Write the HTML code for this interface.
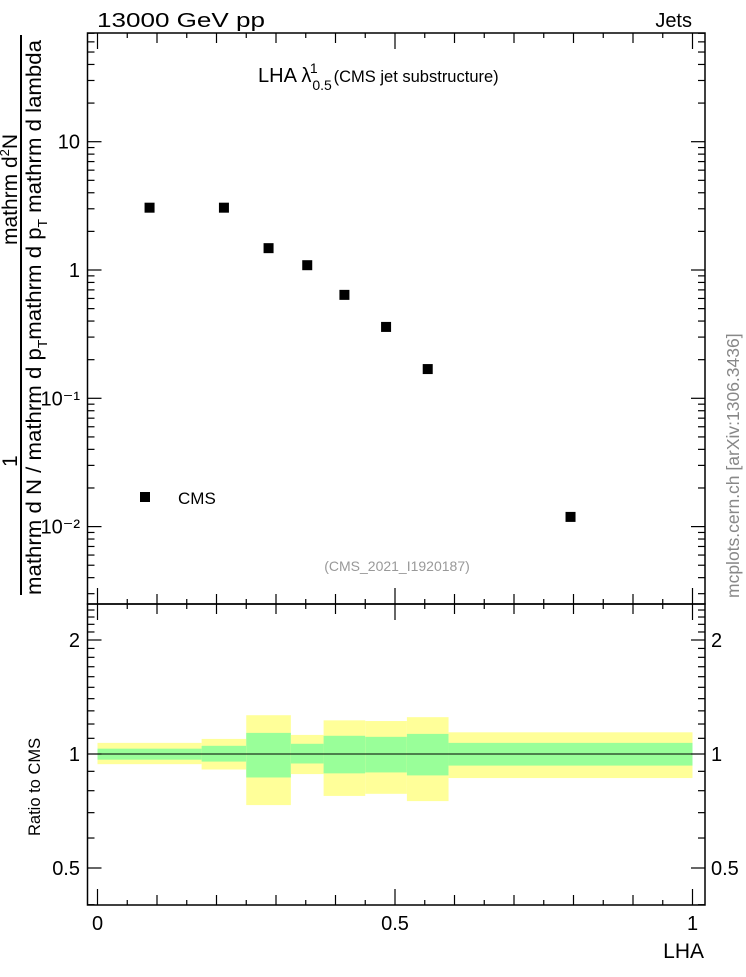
<!DOCTYPE html>
<html><head><meta charset="utf-8"><style>
body{margin:0;background:#fff}
svg text{font-family:"Liberation Sans",sans-serif}
</style></head><body>
<svg id="c" width="746" height="972" xmlns="http://www.w3.org/2000/svg">
<g id="bands"></g>
<g id="marks"></g>
<g id="axes"></g>
<text x="97" y="27" font-size="20" textLength="168" lengthAdjust="spacingAndGlyphs">13000 GeV pp</text>
<text x="692" y="27" font-size="20" text-anchor="end">Jets</text>
<text x="258" y="82" font-size="20">LHA λ<tspan font-size="14" dy="8" dx="1">0.5</tspan><tspan font-size="14" dy="-17" dx="-22">1</tspan><tspan font-size="16.5" dy="9" dx="16">(CMS jet substructure)</tspan></text>
<rect x="140" y="492" width="10" height="10" fill="#000"/>
<text x="178" y="504" font-size="17">CMS</text>
<text x="397" y="571" font-size="14" fill="#999" text-anchor="middle">(CMS_2021_I1920187)</text>
<text transform="translate(739,598) rotate(-90)" font-size="17.5" fill="#888">mcplots.cern.ch [arXiv:1306.3436]</text>
<line x1="21" y1="35" x2="21" y2="595" stroke="#000" stroke-width="2"/>
<text transform="translate(17,467) rotate(-90)" font-size="21">1</text>
<text transform="translate(17,245) rotate(-90)" font-size="21">mathrm d<tspan font-size="13" dy="-8">2</tspan><tspan dy="8">N</tspan></text>
<text transform="translate(41,595) rotate(-90)" font-size="21" textLength="555" lengthAdjust="spacingAndGlyphs">mathrm d N / mathrm d p<tspan font-size="13" dy="6">T</tspan><tspan dy="-6">mathrm d p</tspan><tspan font-size="13" dy="6">T</tspan><tspan dy="-6"> mathrm d lambda</tspan></text>
<text transform="translate(40,836) rotate(-90)" font-size="16.5">Ratio to CMS</text>
<text x="704" y="958" font-size="21" text-anchor="end">LHA</text>
</svg>
<script>
const binEdges=[0,0.175,0.25,0.325,0.38,0.45,0.52,0.59,1];
const cmsValues=[3.06,3.06,1.48,1.09,0.64,0.36,0.169,0.0119];
const greenUp=[1.033,1.051,1.137,1.064,1.117,1.11,1.13,1.07];
const greenDn=[0.966,0.955,0.867,0.944,0.889,0.894,0.878,0.932];
const yellowUp=[1.07,1.096,1.266,1.123,1.227,1.222,1.251,1.141];
const yellowDn=[0.94,0.91,0.733,0.885,0.775,0.785,0.751,0.864];
const mainTicks=["10","1","10⁻¹","10⁻²"];
const ratioTicks=[2,1,0.5];
const NS="http://www.w3.org/2000/svg";
const L=87.5,R=705,T=33,M=604,B=905;
const X=v=>97.5+v*595;
const Y=v=>270-Math.log10(v)*128.3;
const YR=v=>754-Math.log2(v)*114;
function mk(tag,attrs,parent){const e=document.createElementNS(NS,tag);for(const k in attrs)e.setAttribute(k,attrs[k]);(parent||document.getElementById('c')).appendChild(e);return e;}
const bands=document.getElementById('bands'),marks=document.getElementById('marks'),axes=document.getElementById('axes');
for(let i=0;i<cmsValues.length;i++){
  const x0=X(binEdges[i]),x1=X(binEdges[i+1]);
  let r=mk('rect',{x:x0,y:YR(yellowUp[i]),width:x1-x0,height:YR(yellowDn[i])-YR(yellowUp[i]),fill:'#ffff99'},bands);
  
  
  r=mk('rect',{x:x0,y:YR(greenUp[i]),width:x1-x0,height:YR(greenDn[i])-YR(greenUp[i]),fill:'#99ff99'},bands);
  
  
  const cx=X((binEdges[i]+binEdges[i+1])/2),cy=Y(cmsValues[i]);
  const p=mk('rect',{x:cx-5,y:cy-5,width:10,height:10,fill:'#000'},marks);
  
  
}
let ln=mk('line',{x1:X(0),x2:X(1),y1:YR(1),y2:YR(1),stroke:'#000','stroke-width':1},bands);


for(const [y0,y1] of [[T,M],[M,B]]){
  const f=mk('rect',{x:L,y:y0,width:R-L,height:y1-y0,fill:'none',stroke:'#000','stroke-width':1.5},axes);
  
  
  for(let k=0;k<=20;k++){
    const v=k*0.05,x=X(v);
    const len=(k%10===0)?16:(k%2===0?10:5);
    mk('line',{x1:x,x2:x,y1:y1,y2:y1-len,stroke:'#000','stroke-width':1.2},axes);
    mk('line',{x1:x,x2:x,y1:y0,y2:y0+len,stroke:'#000','stroke-width':1.2},axes);
  }
}
for(let d=-3;d<=1;d++){for(let m=1;m<=9;m++){
  const v=m*Math.pow(10,d),y=Y(v);if(y<T||y>M)continue;
  const len=m===1?14:7;
  mk('line',{x1:L,x2:L+len,y1:y,y2:y,stroke:'#000','stroke-width':1.2},axes);
  mk('line',{x1:R,x2:R-len,y1:y,y2:y,stroke:'#000','stroke-width':1.2},axes);
}}
[10,1,0.1,0.01].forEach((v,i)=>{
  const t=mk('text',{x:80,y:Y(v)+7,'font-size':20,'text-anchor':'end'},axes);
  t.textContent=mainTicks[i];
  
  
});
for(let k=4;k<=25;k++){
  const v=k/10,y=YR(v);if(y<M||y>B)continue;
  const len=(k===5||k===10||k===20)?14:7;
  mk('line',{x1:L,x2:L+len,y1:y,y2:y,stroke:'#000','stroke-width':1.2},axes);
  mk('line',{x1:R,x2:R-len,y1:y,y2:y,stroke:'#000','stroke-width':1.2},axes);
}
ratioTicks.forEach(v=>{
  let t=mk('text',{x:80,y:YR(v)+7,'font-size':20,'text-anchor':'end'},axes);
  t.textContent=String(v);
  
  
  t=mk('text',{x:711,y:YR(v)+7,'font-size':20},axes);
  t.textContent=String(v);
  
  
});
[0,0.5,1].forEach(v=>{
  const t=mk('text',{x:X(v),y:930,'font-size':20,'text-anchor':'middle'},axes);
  t.textContent=String(v);
  
  
});
</script>
</body></html>
